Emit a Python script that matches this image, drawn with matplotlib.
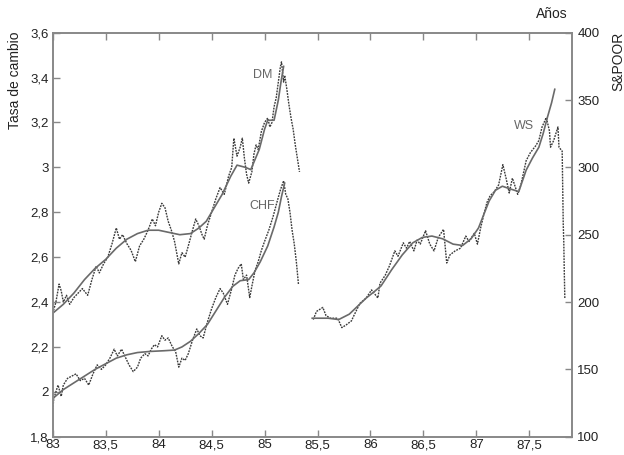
import matplotlib
matplotlib.use("Agg")
import matplotlib.pyplot as plt

plt.rcParams["font.family"] = ["Liberation Sans Narrow", "Liberation Sans", "DejaVu Sans"]

# Tipo de cambio DM (diario y suavizado)
dm_x = [83.00, 83.03, 83.06, 83.08, 83.10, 83.13, 83.16, 83.20, 83.24, 83.28,
        83.33, 83.37, 83.41, 83.44, 83.48, 83.52, 83.56, 83.60, 83.63, 83.66,
        83.70, 83.74, 83.78, 83.82, 83.86, 83.90, 83.94, 83.97, 84.00, 84.03,
        84.06, 84.09, 84.12, 84.15, 84.19, 84.22, 84.25, 84.28, 84.32, 84.35,
        84.38, 84.41, 84.43, 84.46, 84.50, 84.54, 84.58, 84.62, 84.66, 84.69,
        84.71, 84.74, 84.77, 84.79, 84.81, 84.83, 84.85, 84.88, 84.90, 84.92,
        84.94, 84.97, 85.00, 85.03, 85.05, 85.07, 85.09, 85.11, 85.13, 85.15,
        85.16, 85.18, 85.19, 85.21, 85.23, 85.25, 85.27, 85.29, 85.31, 85.33]
dm_y = [2.35, 2.40, 2.48, 2.45, 2.40, 2.43, 2.39, 2.42, 2.44, 2.46,
        2.43, 2.50, 2.56, 2.53, 2.57, 2.60, 2.66, 2.73, 2.68, 2.70,
        2.66, 2.63, 2.58, 2.65, 2.68, 2.72, 2.77, 2.74, 2.80, 2.84,
        2.82, 2.76, 2.72, 2.67, 2.57, 2.62, 2.60, 2.65, 2.72, 2.77,
        2.74, 2.70, 2.68, 2.74, 2.80, 2.86, 2.91, 2.88, 2.96, 3.00,
        3.13, 3.05, 3.09, 3.13, 3.04, 2.97, 2.93, 2.98, 3.06, 3.10,
        3.08, 3.16, 3.20, 3.22, 3.18, 3.20, 3.27, 3.31, 3.38, 3.45,
        3.47, 3.38, 3.41, 3.35, 3.28, 3.22, 3.17, 3.10, 3.04, 2.98]
dm_smooth_x = [83.00, 83.10, 83.20, 83.30, 83.40, 83.50, 83.60, 83.70, 83.80,
               83.90, 84.00, 84.10, 84.20, 84.30, 84.38, 84.45, 84.50, 84.60,
               84.68, 84.74, 84.82, 84.87, 84.95, 85.00, 85.03, 85.09, 85.13,
               85.155, 85.18]
dm_smooth_y = [2.35, 2.39, 2.44, 2.50, 2.55, 2.59, 2.64, 2.68, 2.705,
               2.72, 2.72, 2.71, 2.70, 2.705, 2.73, 2.76, 2.80, 2.88,
               2.96, 3.01, 3.00, 2.99, 3.08, 3.17, 3.21, 3.21, 3.30,
               3.38, 3.45]

# Tipo de cambio CHF
chf_x = [83.00, 83.01, 83.03, 83.05, 83.08, 83.10, 83.14, 83.18, 83.22, 83.26,
         83.30, 83.34, 83.38, 83.42, 83.46, 83.50, 83.54, 83.58, 83.61, 83.65,
         83.68, 83.72, 83.76, 83.80, 83.83, 83.87, 83.90, 83.93, 83.96, 83.99,
         84.03, 84.06, 84.09, 84.13, 84.16, 84.19, 84.22, 84.25, 84.28, 84.32,
         84.36, 84.39, 84.42, 84.46, 84.50, 84.54, 84.58, 84.61, 84.65, 84.69,
         84.72, 84.75, 84.78, 84.80, 84.83, 84.86, 84.88, 84.91, 84.94, 84.97,
         85.00, 85.04, 85.08, 85.12, 85.15, 85.18, 85.20, 85.22, 85.24, 85.26,
         85.28, 85.30, 85.32]
chf_y = [1.92, 1.97, 2.00, 2.03, 1.98, 2.03, 2.06, 2.07, 2.08, 2.05,
         2.06, 2.03, 2.08, 2.12, 2.10, 2.12, 2.15, 2.19, 2.16, 2.19,
         2.16, 2.12, 2.09, 2.11, 2.15, 2.17, 2.16, 2.19, 2.21, 2.20,
         2.25, 2.23, 2.24, 2.20, 2.18, 2.11, 2.15, 2.14, 2.17, 2.23,
         2.28, 2.25, 2.24, 2.31, 2.37, 2.42, 2.46, 2.44, 2.39, 2.46,
         2.52, 2.55, 2.57, 2.50, 2.52, 2.42, 2.47, 2.54, 2.58, 2.63,
         2.67, 2.72, 2.78, 2.85, 2.90, 2.94, 2.88, 2.86, 2.80, 2.72,
         2.66, 2.58, 2.48]
chf_smooth_x = [83.00, 83.10, 83.20, 83.30, 83.40, 83.50, 83.60, 83.70, 83.80,
                83.92, 84.05, 84.15, 84.22, 84.30, 84.38, 84.46, 84.54, 84.62,
                84.70, 84.77, 84.85, 84.90, 84.96, 85.03, 85.09, 85.13, 85.16,
                85.19]
chf_smooth_y = [1.97, 2.01, 2.04, 2.07, 2.10, 2.125, 2.15, 2.165, 2.175,
                2.18, 2.183, 2.186, 2.20, 2.225, 2.26, 2.30, 2.36, 2.42,
                2.47, 2.495, 2.50, 2.53, 2.58, 2.65, 2.735, 2.80, 2.87,
                2.93]

# Indice S&P (eje derecho)
ws_x = [85.46, 85.49, 85.55, 85.58, 85.62, 85.69, 85.73, 85.77, 85.82, 85.85,
        85.90, 85.96, 86.01, 86.04, 86.07, 86.09, 86.14, 86.18, 86.23, 86.26,
        86.31, 86.34, 86.37, 86.41, 86.44, 86.47, 86.52, 86.56, 86.60, 86.64,
        86.69, 86.72, 86.75, 86.80, 86.85, 86.90, 86.93, 86.98, 87.01, 87.04,
        87.07, 87.10, 87.13, 87.17, 87.21, 87.25, 87.28, 87.31, 87.34, 87.39,
        87.42, 87.47, 87.51, 87.56, 87.59, 87.62, 87.66, 87.69, 87.70, 87.73,
        87.77, 87.78, 87.81, 87.82, 87.825, 87.83, 87.835]
ws_y = [187, 193, 196, 190, 188, 188, 181, 183, 186, 191,
        199, 203, 209, 206, 203, 214, 220, 227, 238, 234,
        244, 240, 245, 238, 246, 243, 253, 243, 238, 248,
        254, 229, 235, 238, 240, 249, 245, 251, 243, 255,
        265, 274, 279, 282, 287, 302, 292, 281, 292, 280,
        287, 305, 311, 316, 320, 330, 337, 327, 315, 320,
        330, 315, 312, 258, 245, 222, 203]
ws_smooth_x = [85.45, 85.60, 85.70, 85.80, 85.88, 85.96, 86.04, 86.10, 86.20,
               86.30, 86.40, 86.49, 86.58, 86.68, 86.78, 86.87, 86.95, 87.02,
               87.07, 87.12, 87.18, 87.245, 87.32, 87.40, 87.47, 87.53, 87.59,
               87.63, 87.67, 87.71, 87.74]
ws_smooth_y = [188, 188, 187, 191, 197, 203, 208, 212, 224,
               235, 244, 248, 249, 247, 243, 242, 247, 255,
               265, 275, 283, 286, 284, 282, 298, 307, 315,
               325, 337, 348, 358]

x_ticks = [83, 83.5, 84, 84.5, 85, 85.5, 86, 86.5, 87, 87.5]
y_ticks = [1.8, 2.0, 2.2, 2.4, 2.6, 2.8, 3.0, 3.2, 3.4, 3.6]
sp_ticks = [100, 150, 200, 250, 300, 350, 400]


def coma(v):
    s = ("%g" % v).replace(".", ",")
    return s


noisy_col = "#3a3a3a"
smooth_col = "#6a6a6a"
frame_col = "#888888"
noisy_ls = (0, (1.3, 0.8))

fig = plt.figure(figsize=(6.24, 4.55), dpi=100)
ax = fig.add_axes([0.0845, 0.0402, 0.8317, 0.8879])
ax2 = ax.twinx()

ax.plot(dm_x, dm_y, color=noisy_col, lw=1.0, ls=noisy_ls)
ax.plot(dm_smooth_x, dm_smooth_y, color=smooth_col, lw=1.2)
ax.plot(chf_x, chf_y, color=noisy_col, lw=1.0, ls=noisy_ls)
ax.plot(chf_smooth_x, chf_smooth_y, color=smooth_col, lw=1.2)
ax2.plot(ws_x, ws_y, color=noisy_col, lw=1.0, ls=noisy_ls)
ax2.plot(ws_smooth_x, ws_smooth_y, color=smooth_col, lw=1.2)

ax.set_xlim(83, 87.9)
ax.set_ylim(1.8, 3.6)
ax2.set_ylim(100, 400)

ax.set_xticks(x_ticks)
ax.set_xticklabels([coma(v) for v in x_ticks])
ax.set_yticks(y_ticks)
ax.set_yticklabels([coma(v) for v in y_ticks])
ax2.set_yticks(sp_ticks)
ax2.set_yticklabels([str(v) for v in sp_ticks])

ax.tick_params(axis="x", direction="in", top=True, length=5, width=1,
               color=frame_col, labelsize=9.5, labelcolor="#222222", pad=2)
ax.tick_params(axis="y", direction="in", length=5, width=1,
               color=frame_col, labelsize=9.5, labelcolor="#222222", pad=3)
ax2.tick_params(axis="y", direction="in", length=5, width=1,
                color=frame_col, labelsize=9.5, labelcolor="#222222", pad=4)

for a in (ax, ax2):
    for sp in a.spines.values():
        sp.set_color(frame_col)
        sp.set_linewidth(1.2)

ax.text(84.98, 3.41, "DM", color="#666666", fontsize=9, ha="center", va="center")
ax.text(84.98, 2.83, "CHF", color="#666666", fontsize=9, ha="center", va="center")
ax2.text(87.45, 331, "WS", color="#666666", fontsize=9, ha="center", va="center")

fig.text(15 / 624, 1 - 80 / 455, "Tasa de cambio", rotation=90,
         ha="center", va="center", fontsize=10, color="#222222")
fig.text(618 / 624, 1 - 61 / 455, "S&POOR", rotation=90,
         ha="center", va="center", fontsize=10, color="#222222")
fig.text(552 / 624, 1 - 14 / 455, "Años", ha="center", va="center",
         fontsize=10, color="#222222")

fig.savefig("out.png", dpi=100)
